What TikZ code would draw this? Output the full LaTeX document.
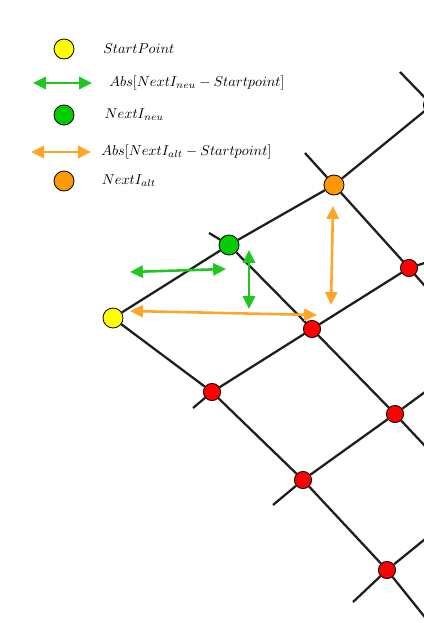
\documentclass[tikz,border=0pt]{standalone}
\usetikzlibrary{positioning,arrows.meta}

\definecolor{startyellow}{RGB}{255,255,0}
\definecolor{neugreen}{RGB}{0,204,0}
\definecolor{altorange}{RGB}{255,153,0}
\definecolor{gridred}{RGB}{255,0,0}
\definecolor{neuarrow}{RGB}{30,200,30}
\definecolor{altarrow}{RGB}{255,165,40}

\tikzset{
	gridline/.style={line width=1.6pt, black!88},
	dot/.style={circle, draw=black, line width=0.6pt, inner sep=0pt, minimum size=14pt},
	reddot/.style={dot, fill=gridred, minimum size=12pt},
	neuarr/.style={arrows={Triangle[length=9pt,width=8.5pt]-Triangle[length=9pt,width=8.5pt]}, line width=1.8pt, neuarrow},
	altarr/.style={arrows={Triangle[length=9pt,width=8.5pt]-Triangle[length=9pt,width=8.5pt]}, line width=1.8pt, altarrow},
	legtext/.style={inner sep=0pt, anchor=west, font=\fontsize{10.2pt}{12pt}\selectfont}
}

\begin{document}
\begin{tikzpicture}[x=0.7pt, y=-0.7pt]
	\useasboundingbox (0,0) rectangle (424,623);
	\clip (0,0) rectangle (424,623);

	% legend
	\node [dot, fill=startyellow] (lstart) at (64,49) {};
	\node [legtext, right=20pt of lstart] {$StartPoint$};
	\coordinate (lneuL) at (33,83);
	\coordinate (lneuR) at (92,83);
	\draw [neuarr] (lneuL) -- (lneuR);
	\node [legtext, right=12pt of lneuR] {$Abs[NextI_{neu}-Startpoint]$};
	\node [dot, fill=neugreen] (lneu) at (64,115) {};
	\node [legtext, right=21pt of lneu] {$NextI_{neu}$};
	\coordinate (laltL) at (31,152);
	\coordinate (laltR) at (91,152);
	\draw [altarr] (laltL) -- (laltR);
	\node [legtext, right=7pt of laltR] {$Abs[NextI_{alt}-Startpoint]$};
	\node [dot, fill=altorange] (lalt) at (64,181) {};
	\node [legtext, right=19pt of lalt] {$NextI_{alt}$};

	% points of the grid
	\node [dot, fill=startyellow] (start) at (113,318) {};
	\node [dot, fill=neugreen] (neu) at (229,245) {};
	\node [dot, fill=altorange] (alt) at (334,185) {};
	\node [reddot] (r0) at (432,105) {};
	\node [reddot] (r1) at (409,268) {};
	\node [reddot] (r2) at (312,329) {};
	\node [reddot] (r3) at (212,392) {};
	\node [reddot] (r4) at (395,414) {};
	\node [reddot] (r5) at (303,480) {};
	\node [reddot] (r6) at (387,570) {};

	% loose ends
	\coordinate (eD) at (400,72);
	\coordinate (eC) at (305,153);
	\coordinate (eB) at (209,233);
	\coordinate (e2) at (193,408);
	\coordinate (e3) at (273,505);
	\coordinate (e4) at (353,602);
	\coordinate (f1) at (440,258);
	\coordinate (f2) at (440,381);
	\coordinate (f3) at (440,527);
	\coordinate (g1) at (440,303);
	\coordinate (g2) at (440,462);
	\coordinate (g3) at (440,636);

	% up-right lines
	\draw [gridline] (start) -- (neu) -- (alt) -- (r0);
	\draw [gridline] (e2) -- (r3) -- (r2) -- (r1) -- (f1);
	\draw [gridline] (e3) -- (r5) -- (r4) -- (f2);
	\draw [gridline] (e4) -- (r6) -- (f3);
	% down-right lines
	\draw [gridline] (eD) -- (r0);
	\draw [gridline] (eC) -- (alt) -- (r1) -- (g1);
	\draw [gridline] (eB) -- (neu) -- (r2) -- (r4) -- (g2);
	\draw [gridline] (start) -- (r3) -- (r5) -- (r6) -- (g3);

	% distances
	\coordinate (nhL) at (130,272);
	\coordinate (nhR) at (226,269);
	\coordinate (nvT) at (249,250);
	\coordinate (nvB) at (249,309);
	\coordinate (ahL) at (130,311);
	\coordinate (ahR) at (317,315);
	\coordinate (avT) at (333,206);
	\coordinate (avB) at (331,305);
	\draw [neuarr] (nhL) -- (nhR);
	\draw [neuarr] (nvT) -- (nvB);
	\draw [altarr] (ahL) -- (ahR);
	\draw [altarr] (avT) -- (avB);

\end{tikzpicture}
\end{document}
